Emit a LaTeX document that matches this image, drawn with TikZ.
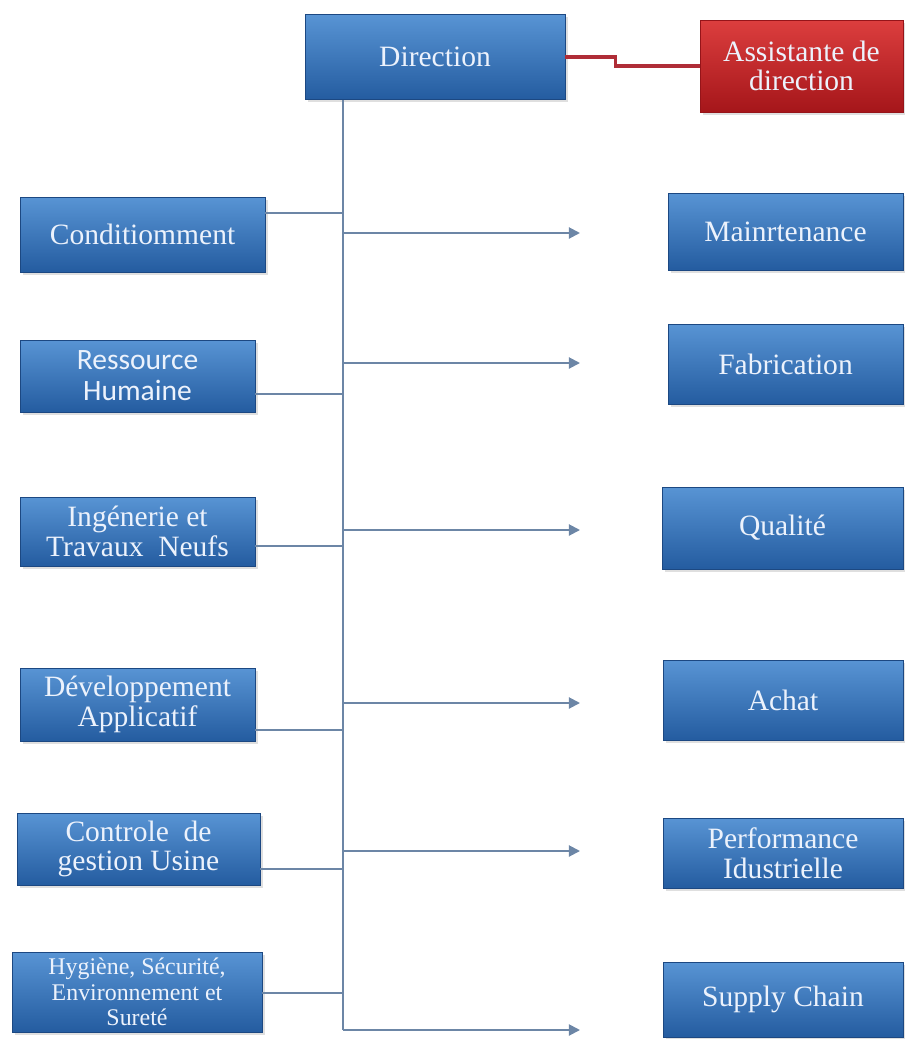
\documentclass[tikz,border=0pt]{standalone}
\usepackage{fontspec}
\setmainfont{Liberation Serif}
\newfontfamily\calibfont{Carlito}
\usetikzlibrary{arrows.meta,shadows}
\newdimen\pxu \pxu=0.025cm
\definecolor{boxtop}{RGB}{88,148,212}
\definecolor{boxmid}{RGB}{48,112,184}
\definecolor{boxbot}{RGB}{36,92,160}
\definecolor{boxline}{RGB}{28,72,130}
\definecolor{redtop}{RGB}{220,62,62}
\definecolor{redmid}{RGB}{196,30,32}
\definecolor{redbot}{RGB}{165,22,26}
\definecolor{redline}{RGB}{150,20,25}
\definecolor{linkcol}{RGB}{108,134,166}
\definecolor{redlink}{RGB}{175,45,55}
\definecolor{boxtext}{RGB}{236,242,252}
\tikzset{
  unit/.style 2 args={minimum width=#1\pxu, minimum height=#2\pxu},
  dept/.style={rectangle, inner sep=1pt, align=center, text=boxtext,
    draw=boxline, line width=0.6pt, top color=boxtop, middle color=boxmid,
    bottom color=boxbot, drop shadow={opacity=0.25, shadow xshift=2pt, shadow yshift=-2pt},
    font=\fontsize{21}{21}\selectfont},
  redbox/.style={dept, draw=redline, top color=redtop, middle color=redmid, bottom color=redbot},
  link/.style={draw=linkcol, line width=1.4pt},
  arr/.style={link, -{Triangle[length=8pt,width=8pt]}}
}
\begin{document}
\begin{tikzpicture}[x=1\pxu, y=-1\pxu]
	%%%%% START %%%%%
	\useasboundingbox (0,0) rectangle (905,1039);
	
	\node[dept, unit={260}{85}] (dir) at (435,57) {Direction};
	\node[redbox, unit={203}{92}] (assist) at (801.5,66) {Assistante de\\direction};
	
	% left side
	\node[dept, unit={245}{75}] (cond) at (142.5,234.5) {Conditiomment};
	\node[dept, unit={235}{72}, font=\calibfont\fontsize{21}{22}\selectfont] (rh) at (137.5,376) {Ressource\\Humaine};
	\node[dept, unit={235}{69}] (itn) at (137.5,531.5) {Ingénerie et\\Travaux~~Neufs};
	\node[dept, unit={235}{73}] (dev) at (137.5,704.5) {Développement\\Applicatif};
	\node[dept, unit={243}{72}] (cgu) at (138.5,849) {Controle~~de\\gestion Usine};
	\node[dept, unit={250}{80}, font=\fontsize{17}{18}\selectfont] (hse) at (137,992) {Hygiène, Sécurité,\\Environnement et\\Sureté};
	
	% right side
	\node[dept, unit={235}{77}] (maint) at (785.5,231.5) {Mainrtenance};
	\node[dept, unit={235}{80}] (fab) at (785.5,364) {Fabrication};
	\node[dept, unit={241}{82}] (qual) at (782.5,528) {Qualité};
	\node[dept, unit={240}{80}] (achat) at (783,700) {Achat};
	\node[dept, unit={240}{70}] (perf) at (783,853) {Performance\\Idustrielle};
	\node[dept, unit={240}{75}] (supply) at (783,999.5) {Supply Chain};
	
	% trunk
	\coordinate (ttop) at (343,100);
	\coordinate (tbot) at (343,1030);
	\draw[link, line width=1.2pt] (ttop) -- (tbot);
	
	\draw[draw=redlink, line width=2.2pt] (dir.east) -- ++(50,0) |- (assist.west);
	
	% left links
	\foreach \b/\y in {cond/213, rh/394, itn/546, dev/730, cgu/869, hse/993}{
		\coordinate (j\b) at (343,\y);
		\draw[link] (\b.east |- j\b) -- (j\b);
	}
	
	% arrows
	\foreach \b/\y in {maint/233, fab/363, qual/530, achat/703, perf/851, supply/1030}{
		\coordinate (s\b) at (343,\y);
		\coordinate (e\b) at (580,\y);
		\draw[arr] (s\b) -- (e\b);
	}
	%%%%% END %%%%%
\end{tikzpicture}
\end{document}
